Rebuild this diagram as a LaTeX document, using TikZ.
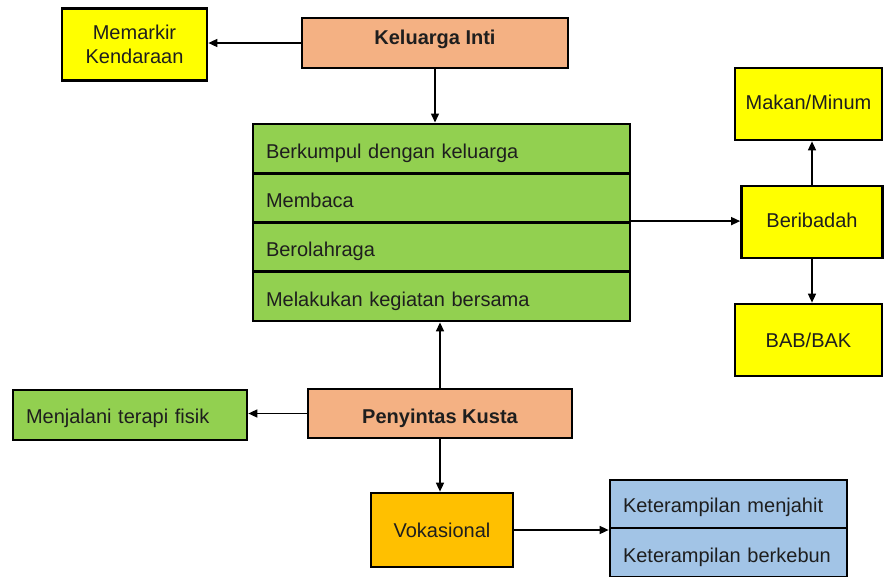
\documentclass[tikz,border=0pt]{standalone}
\usepackage{fontspec}
\setmainfont{Liberation Sans}
\usetikzlibrary{arrows.meta}
\definecolor{ylw}{HTML}{FFFF00}
\definecolor{salmon}{HTML}{F4B183}
\definecolor{grn}{HTML}{92D050}
\definecolor{orng}{HTML}{FFC000}
\definecolor{blu}{HTML}{A2C4E6}
\definecolor{txt}{HTML}{1E1E1E}
\tikzset{
  box/.style={draw=black, line width=2.7pt, rectangle, inner sep=0pt,
    text=txt, font=\fontsize{20}{24}\selectfont, text depth=0pt},
  rowbox/.style={box, fill=grn, align=left, inner xsep=13pt, inner ysep=0pt, text width=351pt,
    minimum height=49.3pt, text height=19.3pt},
  bluerow/.style={box, fill=blu, align=left, inner xsep=13pt, text width=211pt},
  conn/.style={draw=black, line width=1.5pt, -{Triangle[length=9pt,width=8pt]}}
}
\begin{document}
\begin{tikzpicture}[x=1pt,y=-1pt]
\useasboundingbox (0,0) rectangle (884,576);
\clip (0,0) rectangle (884,576);
\fill[white] (0,0) rectangle (884,576);

\node[draw=black, line width=2.7pt, inner sep=0pt, text=txt, font=\fontsize{20}{24}\selectfont,
  align=center, fill=ylw, minimum width=145pt, minimum height=72pt] (memarkir) at (134.5,44.5) {Memarkir\\Kendaraan};
\node[box, fill=salmon, minimum width=266pt, minimum height=50pt, text height=2.3pt,
  font=\fontsize{20}{24}\selectfont\bfseries] (inti) at (435,43) {Keluarga Inti};

\node[rowbox] (g1) at (441.5,148.5) {Berkumpul dengan keluarga};
\node[rowbox] (g2) at (441.5,197.8) {Membaca};
\node[rowbox] (g3) at (441.5,247.1) {Berolahraga};
\node[rowbox] (g4) at (441.5,296.4) {Melakukan kegiatan bersama};

\node[box, fill=ylw, minimum width=147pt, minimum height=72pt, text height=11.3pt] (makan) at (808.5,104) {Makan/Minum};
\node[box, fill=ylw, minimum width=141pt, minimum height=72pt, text height=11.3pt] (beribadah) at (812,222) {Beribadah};
\node[box, fill=ylw, minimum width=147pt, minimum height=72pt, text height=14.3pt] (bab) at (808.5,340) {BAB/BAK};

\node[box, fill=grn, minimum width=234pt, minimum height=50pt, align=left, text width=208pt,
  inner xsep=13pt, text height=17.7pt] (menjalani) at (130,415) {Menjalani terapi fisik};
\node[box, fill=salmon, minimum width=264pt, minimum height=49pt, text height=19.3pt,
  font=\fontsize{20}{24}\selectfont\bfseries] (penyintas) at (440,413.5) {Penyintas Kusta};

\node[box, fill=orng, minimum width=142pt, minimum height=74pt, text height=14.3pt] (vokasional) at (442,530) {Vokasional};
\node[bluerow, minimum height=48pt, text height=16.3pt] (k1) at (728.5,504) {Keterampilan menjahit};
\node[bluerow, minimum height=49pt, text height=19.3pt] (k2) at (728.5,552.5) {Keterampilan berkebun};

\draw[conn] (inti.west) -- (inti.west -| memarkir.east);
\draw[conn] (inti.south) -- (inti.south |- g1.north);
\draw[conn] (g3.north east) -- (g3.north east -| beribadah.west);
\draw[conn] (beribadah.north) -- (beribadah.north |- makan.south);
\draw[conn] (beribadah.south) -- (beribadah.south |- bab.north);
\draw[conn] (penyintas.north) -- (penyintas.north |- g4.south);
\draw[conn] (penyintas.west) -- (penyintas.west -| menjalani.east);
\draw[conn] (penyintas.south) -- (penyintas.south |- vokasional.north);
\draw[conn] (vokasional.east) -- (vokasional.east -| k1.south west);
\end{tikzpicture}
\end{document}
